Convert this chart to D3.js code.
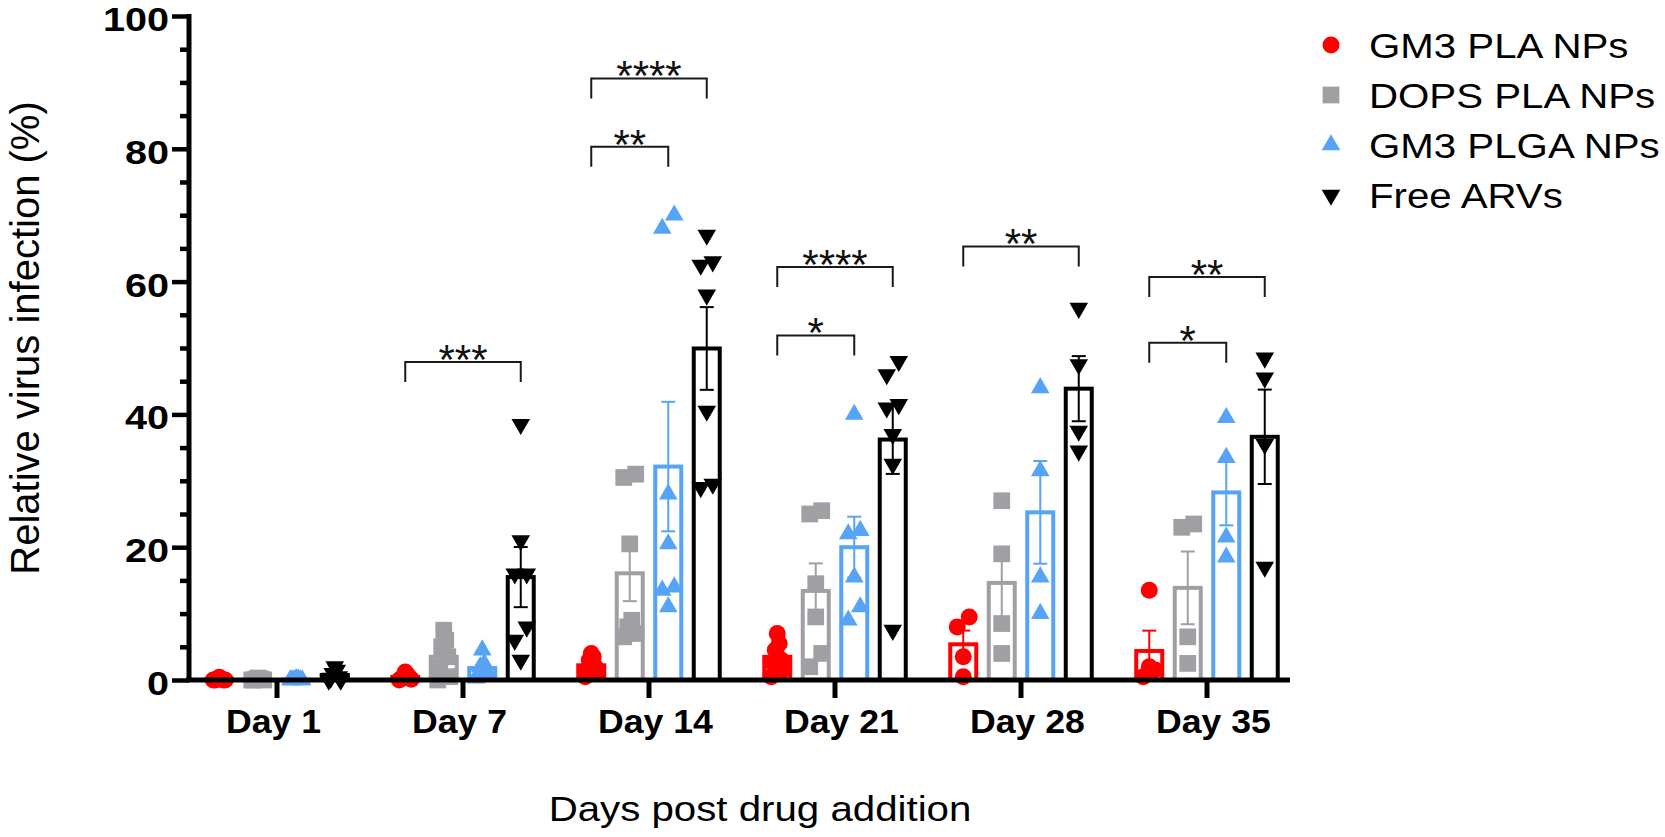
<!DOCTYPE html>
<html><head><meta charset="utf-8">
<script src="https://cdn.jsdelivr.net/npm/d3@7"></script>
<style>body{margin:0;background:#fff} svg{display:block} text{font-family:"Liberation Sans", Arial, sans-serif}</style>
</head><body>
<svg id="chart" width="1665" height="837"></svg>
<script>
// ---------- data ----------
const days = ["Day 1","Day 7","Day 14","Day 21","Day 28","Day 35"];
const seriesNames = ["GM3 PLA NPs","DOPS PLA NPs","GM3 PLGA NPs","Free ARVs"];
const seriesColors = ["#FF0000","#A0A0A4","#57A3F5","#000000"];
const seriesSymbols = ["circle","square","triangle","triangleDown"];

const gm3PLA = [
  [0.4,0.2,0.1,0,0,0,0],
  [1.2,0.8,0.5,0.4,0.2,0.1,0],
  [4,3.5,3,2,1.5,1,0.5],
  [7,5.5,4.5,3,2.5,1.5,0.5],
  [9.5,8,3.5,0.5],
  [13.5,2,1.5,0.5]
];
const dopsPLA = [
  [0.3,0.2,0.1,0.1,0,0,0],
  [7.5,6,5,3.5,2,0.5,0],
  [31,30.5,20.5,9,8,7,6.5],
  [25.5,25,14.5,9.5,4,2],
  [27,19,8.5,4],
  [23.5,23,6.5,2.5]
];
const gm3PLGA = [
  [0.2,0.1,0,0,0,0,0],
  [4.5,2.5,2,1.5,1,0.8,0.3],
  [70,68,28,20.5,14,13.5,11],
  [40,22.5,22,15.5,11,9],
  [44,31.5,15.5,10],
  [39.5,33.5,21.5,18.5]
];
const freeARVs = [
  [2,1.5,1,0.5,0.3,0,0],
  [38.5,21,16,16,8,6,3],
  [67,63,62.5,58,40.5,29.5,29],
  [48,46,41,41.5,37,32.5,7.5],
  [56,47.5,37.5,34.5],
  [48.5,45.5,35.5,17]
];
const yTicks = [0,20,40,60,80,100];
const yMinorTicks = [5,10,15,25,30,35,45,50,55,65,70,75,85,90,95];

const bracketDay    = ["Day 7","Day 14","Day 14","Day 21","Day 21","Day 28","Day 35","Day 35"];
const bracketTarget = [3,3,2,3,2,3,3,2];
const bracketY      = [47.9,90.6,80.3,62.2,51.9,65.3,60.7,50.8];
const bracketLabel  = ["***","****","**","****","*","**","**","*"];

const yTitle = "Relative virus infection (%)";
const xTitle = "Days post drug addition";

// ---------- layout ----------
const allSeries = [gm3PLA, dopsPLA, gm3PLGA, freeARVs];
const svg = d3.select("#chart");
const x0 = d3.scaleBand().domain(days).range([184,1300]);
const x1 = d3.scaleBand().domain(d3.range(4)).range([16,170]);
const y = d3.scaleLinear().domain([0,100]).range([680,16]);
const cx = (d, s) => x0(d) + x1(s) + x1.bandwidth()/2;
const FONT = '"Liberation Sans", Arial, sans-serif';

const symType = {circle:d3.symbolCircle, square:d3.symbolSquare, triangle:d3.symbolTriangle, triangleDown:d3.symbolTriangle};
const symSize = {circle:227, square:280, triangle:150, triangleDown:150};
function symPath(name){ return d3.symbol().type(symType[name]).size(symSize[name])(); }
function symRot(name){ return name==="triangleDown" ? " rotate(180)" : ""; }

// ---------- bars, points, error bars ----------
const gBars = svg.append("g"), gPts = svg.append("g"), gErr = svg.append("g");
const barW = 26;

function spread(vals){
  const idx = d3.range(vals.length).sort((a,b)=>vals[b]-vals[a]);
  const offs = new Array(vals.length).fill(0);
  const clusters = []; let cur = [idx[0]];
  for (let k=1;k<idx.length;k++){
    if (y(vals[idx[k]]) - y(vals[idx[k-1]]) < 14) cur.push(idx[k]);
    else { clusters.push(cur); cur=[idx[k]]; }
  }
  clusters.push(cur);
  clusters.forEach(c=>{
    const n=c.length; if(n<2) return;
    const w=12, step=w/(n-1);
    const slots = d3.range(n).map(i=>w/2-i*step).sort((a,b)=>Math.abs(a)-Math.abs(b));
    c.forEach((pi,j)=>offs[pi]=slots[j]);
  });
  return offs;
}

allSeries.forEach((ser, s)=>{
  const col = seriesColors[s], sym = seriesSymbols[s];
  days.forEach((d, di)=>{
    const vals = ser[di];
    const m = d3.mean(vals);
    const sem = (d3.deviation(vals)||0)/Math.sqrt(vals.length);
    const c = cx(d, s);
    gBars.append("rect")
      .attr("x", c-barW/2).attr("width", barW)
      .attr("y", y(m)).attr("height", y(0)-y(m))
      .attr("fill","none").attr("stroke", col).attr("stroke-width", 4);
    const offs = spread(vals);
    vals.forEach((v,i)=>{
      gPts.append("path").attr("d", symPath(sym))
        .attr("transform", `translate(${c+offs[i]},${y(v)})${symRot(sym)}`)
        .attr("fill", col);
    });
    if (sem>0){
      const e = gErr.append("g").attr("stroke", col).attr("stroke-width", 2);
      e.append("line").attr("x1",c).attr("x2",c).attr("y1",y(m+sem)).attr("y2",y(Math.max(0,m-sem)));
      e.append("line").attr("x1",c-7).attr("x2",c+7).attr("y1",y(m+sem)).attr("y2",y(m+sem));
      if (m-sem>0) e.append("line").attr("x1",c-7).attr("x2",c+7).attr("y1",y(m-sem)).attr("y2",y(m-sem));
    }
  });
});

// ---------- axes ----------
const yAxisX = 189;
const gy = svg.append("g").attr("transform", `translate(${yAxisX},0)`);
gy.call(d3.axisLeft(y).tickValues(yTicks).tickSize(17).tickSizeOuter(0).tickFormat(d3.format("d")));
gy.select(".domain").attr("stroke-width",5).attr("d", `M0,${y(100)-2}V${y(0)}`);
gy.selectAll(".tick line").attr("stroke-width",4.5);
gy.selectAll(".tick text").attr("x",0).attr("dy",14.4)
  .attr("transform", `translate(-20,0) scale(1.2,1)`)
  .attr("font-size",33).attr("font-weight","bold").attr("fill","#000")
  .style("font-family",FONT);
const gyMinor = svg.append("g").attr("transform", `translate(${yAxisX},0)`);
gyMinor.call(d3.axisLeft(y).tickValues(yMinorTicks).tickSize(9).tickFormat(""));
gyMinor.select(".domain").remove();
gyMinor.selectAll(".tick line").attr("stroke-width",4.5);

const gx = svg.append("g").attr("transform", `translate(0,${y(0)})`);
gx.call(d3.axisBottom(x0).tickSize(18).tickSizeOuter(0));
gx.select(".domain").attr("stroke-width",5).attr("d", `M${yAxisX-3},0H1290`);
gx.selectAll(".tick line").attr("stroke-width",5);
gx.selectAll(".tick text").attr("y",0).attr("dy",0).attr("text-anchor","start")
  .attr("transform", `translate(-51,53) scale(1.08,1)`)
  .attr("font-size",33).attr("font-weight","bold").attr("fill","#000")
  .style("font-family",FONT);

// ---------- significance brackets ----------
const gB = svg.append("g");
bracketDay.forEach((d,i)=>{
  const xa = cx(d,0), xb = cx(d,bracketTarget[i]), yy = y(bracketY[i]);
  gB.append("path").attr("d", `M${xa},${yy+20}V${yy}H${xb}V${yy+20}`)
    .attr("fill","none").attr("stroke","#1a1a1a").attr("stroke-width",2);
  gB.append("text").attr("x",(xa+xb)/2).attr("y",yy+12).attr("text-anchor","middle")
    .attr("font-size",42).attr("fill","#111").text(bracketLabel[i]);
});

// ---------- titles ----------
svg.append("text").attr("transform","translate(39,338) rotate(-90)")
  .attr("text-anchor","middle").attr("font-size",40).attr("fill","#000").text(yTitle);
svg.append("text").attr("transform",`translate(760,821) scale(1.15,1)`)
  .attr("text-anchor","middle").attr("font-size",35).attr("fill","#000").text(xTitle);

// ---------- legend ----------
const gL = svg.append("g");
seriesNames.forEach((n,i)=>{
  const ly = 45 + i*50;
  gL.append("path").attr("d", symPath(seriesSymbols[i]))
    .attr("transform", `translate(1331,${ly})${symRot(seriesSymbols[i])}`)
    .attr("fill", seriesColors[i]);
  gL.append("text").attr("transform", `translate(1369,${ly+12.5}) scale(1.15,1)`)
    .attr("font-size",35).attr("fill","#000").text(n);
});
</script>
</body></html>
